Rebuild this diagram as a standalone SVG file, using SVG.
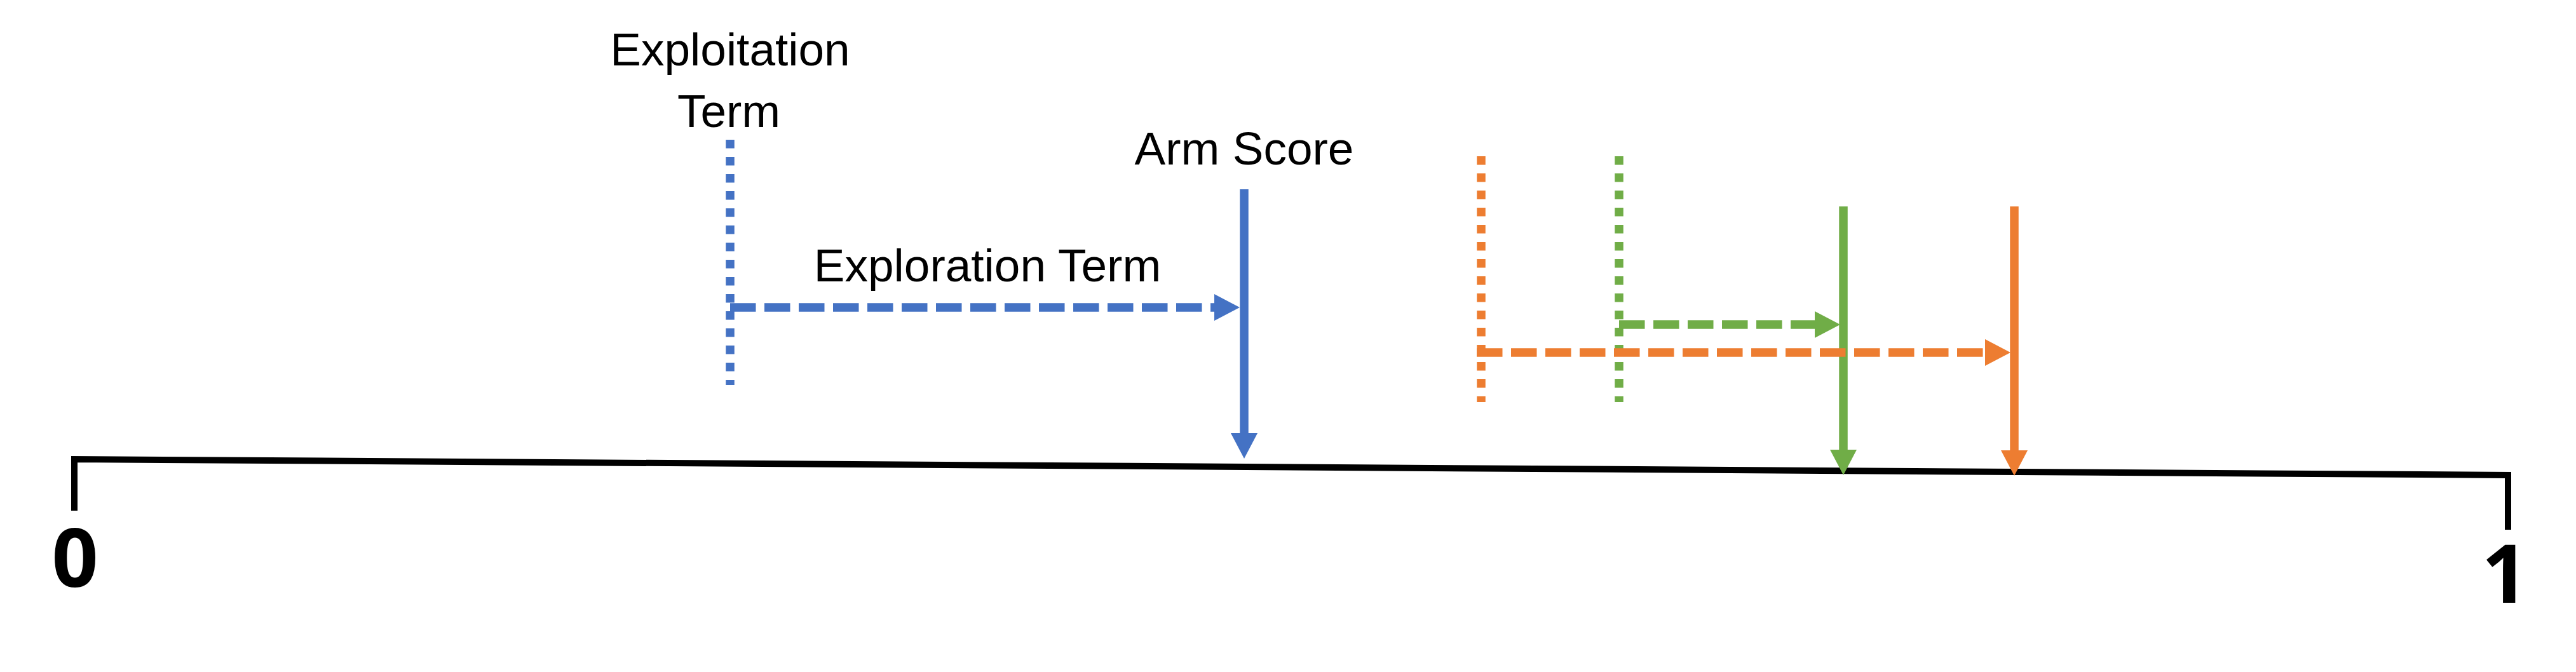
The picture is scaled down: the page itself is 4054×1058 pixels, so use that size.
<svg xmlns="http://www.w3.org/2000/svg" width="4054" height="1058" viewBox="0 0 4054 1058">
  <style>
    .lbl { font-family: "Liberation Sans", Arial, sans-serif; font-size: 73px; fill: #000; text-anchor: middle; }
    .num { font-family: "Open Sans", "DejaVu Sans", sans-serif; font-size: 128px; font-weight: 700; fill: #000; text-anchor: middle; }
    .dot { fill: none; stroke-width: 13.5; stroke-dasharray: 13.5 13.5; }
    .dash { fill: none; stroke-width: 13.5; stroke-dasharray: 40.5 13.5; }
    .solid { fill: none; stroke-width: 13.5; }
    .blue { stroke: #4472C4; }
    .green { stroke: #70AD47; }
    .orange { stroke: #ED7D31; }
    .axis { fill: none; stroke: #000; stroke-width: 10; stroke-linejoin: miter; }
  </style>
  <defs>
    <marker id="arrowBlue" viewBox="0 0 40 42" refX="0" refY="21" markerWidth="40" markerHeight="42" markerUnits="userSpaceOnUse" orient="auto">
      <path d="M0,0 L40,21 L0,42 Z" fill="#4472C4"/>
    </marker>
    <marker id="arrowGreen" viewBox="0 0 40 42" refX="0" refY="21" markerWidth="40" markerHeight="42" markerUnits="userSpaceOnUse" orient="auto">
      <path d="M0,0 L40,21 L0,42 Z" fill="#70AD47"/>
    </marker>
    <marker id="arrowOrange" viewBox="0 0 40 42" refX="0" refY="21" markerWidth="40" markerHeight="42" markerUnits="userSpaceOnUse" orient="auto">
      <path d="M0,0 L40,21 L0,42 Z" fill="#ED7D31"/>
    </marker>
  </defs>
  <rect x="0" y="0" width="4054" height="1058" fill="#fff"/>

  <g id="axis">
    <path class="axis" d="M117,804 L117,723 L3947,748 L3947,834"/>
    <text class="num" x="118" y="924">0</text>
    <text class="num" x="3942" y="949">1</text>
  </g>

  <g id="arm-blue">
    <text class="lbl" x="1149" y="103">Exploitation</text>
    <text class="lbl" x="1147" y="200">Term</text>
    <line class="dot blue" x1="1149" y1="220" x2="1149" y2="606"/>
    <text class="lbl" x="1958" y="259">Arm Score</text>
    <text class="lbl" x="1554" y="443">Exploration Term</text>
  </g>

  <g id="arm-green">
    <line class="dot green" x1="2548" y1="246" x2="2548" y2="633"/>
  </g>

  <g id="arm-orange">
    <line class="dot orange" x1="2331" y1="246" x2="2331" y2="633"/>
  </g>

  <g id="connectors">
    <line class="dash blue" x1="1149" y1="484" x2="1911" y2="484" marker-end="url(#arrowBlue)"/>
    <line class="solid blue" x1="1958" y1="298" x2="1958" y2="682" marker-end="url(#arrowBlue)"/>
    <line class="solid green" x1="2901" y1="325" x2="2901" y2="708" marker-end="url(#arrowGreen)"/>
    <line class="dash green" x1="2548" y1="511" x2="2856" y2="511" marker-end="url(#arrowGreen)"/>
    <line class="solid orange" x1="3170" y1="325" x2="3170" y2="709" marker-end="url(#arrowOrange)"/>
    <line class="dash orange" x1="2324" y1="555" x2="3124" y2="555" marker-end="url(#arrowOrange)"/>
  </g>
</svg>
